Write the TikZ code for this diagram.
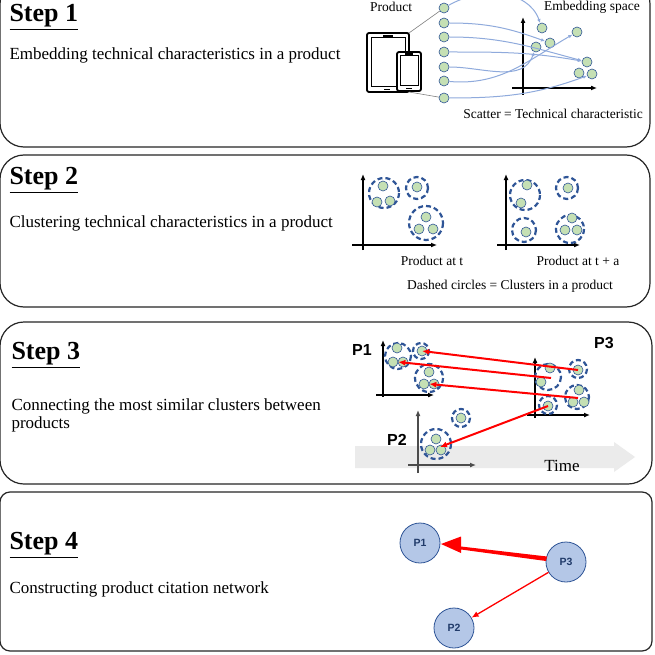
\documentclass[tikz,border=0pt]{standalone}
\usepackage{fontspec}
\setmainfont{Liberation Serif}
\newfontfamily\hsans{Liberation Sans}
\usetikzlibrary{arrows.meta}
\definecolor{dotg}{HTML}{C5E0B4}
\definecolor{dblue}{HTML}{2F5597}
\definecolor{lblue}{HTML}{8FAADC}
\definecolor{nfill}{HTML}{B4C7E7}
\definecolor{redc}{HTML}{FF0000}
\begin{document}
\begin{tikzpicture}[x=1pt,y=-1pt,
  panel/.style={draw=black!85,line width=1.2pt,rounded corners=24pt},
  dot/.style={circle,draw=dblue,fill=dotg,line width=0.6pt,minimum size=10pt,inner sep=0pt},
  clu/.style={draw=dblue,line width=2.2pt,dash pattern=on 5pt off 3pt},
  ax/.style={line width=2pt,-{Latex[length=6pt,width=5pt]}},
  curv/.style={lblue,line width=1pt,-{Latex[length=4pt,width=3.5pt]}},
  head/.style={font=\bfseries\fontsize{26}{30}\selectfont,anchor=west},
  txt/.style={font=\fontsize{17}{20}\selectfont,anchor=west},
  sm/.style={font=\fontsize{13.5}{15}\selectfont},
  lab/.style={font=\hsans\bfseries\fontsize{16}{18}\selectfont},
  rarr/.style={redc,line width=2pt,-{Latex[length=7pt,width=6pt]}},
  pnode/.style={circle,draw=dblue,fill=nfill,line width=0.8pt,minimum size=40pt,inner sep=0pt,font=\hsans\bfseries\fontsize{10.5}{12}\selectfont,text=dblue!70!black}]
\useasboundingbox (0,0) rectangle (655,655);
\fill[white] (0,0) rectangle (655,655);
% panels
\draw[panel] (0,-20) rectangle (650,147);
\draw[panel] (0,155) rectangle (650,307);
\draw[panel] (0,322) rectangle (652,484);
\draw[panel,rounded corners=10pt] (0,492) rectangle (652,651);
% Step 1
\node[head] (h1) at (6,17) {\underline{Step 1}};
\node[txt] (t1) at (6,55) {Embedding technical characteristics in a product};
\node[sm] (prod) at (391,7) {Product};
\node[sm] (emb) at (592,7) {Embedding space};
\node[sm] (scat) at (553,114) {Scatter = Technical characteristic};
% device
\draw[line width=1.8pt,rounded corners=2pt] (367,33) rectangle (409,92);
\draw[line width=1pt] (371,38) rectangle (405,87);
\draw[line width=1.5pt] (383,36) -- (393,36);
\draw[line width=1.8pt,rounded corners=2pt,fill=white] (397,52) rectangle (421,91);
\draw[line width=1pt] (400,56) rectangle (418,86);
\draw[line width=1.3pt] (405,54) -- (413,54);
\draw[line width=1.3pt] (406,88.5) -- (412,88.5);
\draw[line width=1.3pt] (384,89.5) -- (390,89.5);
\coordinate (dtop) at (409,33);
\coordinate (dbot) at (409,92);
% axes 1
\draw[ax] (523,95) -- (523,17);
\draw[ax] (512,88) -- (597,88);
% scatter
\node[dot] (s1) at (542,28) {};
\node[dot] (s2) at (550,43) {};
\node[dot] (s3) at (577,32) {};
\node[dot] (s4) at (536,47) {};
\node[dot] (s5) at (587,62) {};
\node[dot] (s6) at (579,73) {};
\node[dot] (s7) at (592,74) {};
\foreach \i/\y in {1/8,2/23,3/37,4/52,5/67,6/81,7/98}{\node[dot] (d\i) at (444,\y) {};}
\draw[gray,line width=0.6pt] (dtop) -- (d1);
\draw[gray,line width=0.6pt] (dbot) -- (d7);
\draw[curv] (d1) to[out=30,in=110] (s1);
\draw[curv] (d2) to[out=0,in=160] (s2);
\draw[curv] (d3) to[out=0,in=165] (s5);
\draw[curv] (d4) to[out=0,in=170] (s5);
\draw[curv] (d5) to[out=0,in=-110] (s4);
\draw[curv] (d6) to[out=-5,in=-150] (s3);
\draw[curv] (d7) to[out=0,in=-160] (s7);
% Step 2
\node[head] (h2) at (6,180) {\underline{Step 2}};
\node[txt] (t2) at (6,223) {Clustering technical characteristics in a product};
\draw[ax] (363,250) -- (363,174);
\draw[ax] (352,245) -- (437,245);
\draw[clu] (384,193) circle (15);
\node[dot] at (383,186) {};\node[dot] at (377,202) {};\node[dot] at (390,201) {};
\draw[clu] (417,188) circle (11);
\node[dot] at (417,187) {};
\draw[clu] (426,223) circle (17);
\node[dot] at (426,217) {};\node[dot] at (419,229) {};\node[dot] at (433,229) {};
\draw[ax] (506,250) -- (506,174);
\draw[ax] (497,245) -- (580,245);
\draw[clu] (525,195) circle (15);
\node[dot] at (527,185) {};\node[dot] at (521,203) {};
\draw[clu] (567,188) circle (11);
\node[dot] at (568,188) {};
\draw[clu] (524,230) circle (12);
\node[dot] at (526,232) {};
\draw[clu] (570,229) circle (14);
\node[dot] at (572,218) {};\node[dot] at (565,230) {};\node[dot] at (577,230) {};
\node[sm] (pt) at (432,261) {Product at t};
\node[sm] (pta) at (578,261) {Product at t + a};
\node[sm] (dc) at (510,286) {Dashed circles = Clusters in a product};
% Step 3
\node[head] (h3) at (8,355) {\underline{Step 3}};
\node[txt] (t3a) at (8,406) {Connecting the most similar clusters between};
\node[txt] (t3b) at (8,424) {products};
\fill[black!8] (355,446) -- (614,446) -- (614,442) -- (635,457) -- (614,472) -- (614,468) -- (355,468) -- cycle;
\node[font=\fontsize{17}{20}\selectfont] (time) at (562,466) {Time};
% P1
\node[lab] (p1) at (362,350) {P1};
\draw[ax] (383,397) -- (383,340);
\draw[ax] (376,395) -- (434,395);
\draw[clu] (398,356) circle (13);
\node[dot] at (397,348) {};\node[dot] (p1c1) at (393,362) {};\node[dot] at (403,362) {};
\draw[clu] (421,351) circle (8);
\node[dot] (p1c2) at (422,351) {};
\draw[clu] (429,378) circle (14);
\node[dot] at (429,372) {};\node[dot] (p1c3) at (424,384) {};\node[dot] at (434,384) {};
% P3
\node[lab] (p3) at (604,343) {P3};
\draw[ax] (535,418) -- (535,357);
\draw[ax] (527,415) -- (590,415);
\draw[clu] (548,377) circle (13);
\node[dot] at (550,368) {};\node[dot] at (541,382) {};
\coordinate (p3a) at (551,378);
\draw[clu] (578,369) circle (9);
\node[dot] (p3b) at (578,370) {};
\draw[clu] (577,397) circle (12);
\node[dot] at (579,390) {};\node[dot] at (573,402) {};\node[dot] at (584,402) {};
\coordinate (p3c) at (578,398);
\draw[clu] (548,405) circle (9);
\node[dot] (p3d) at (548,406) {};
% P2
\node[lab] (p2) at (397,440) {P2};
\draw[ax,black!70] (418,473) -- (418,410);
\draw[ax,black!70] (408,465) -- (476,465);
\draw[clu] (461,418) circle (9);
\node[dot] at (461,418) {};
\draw[clu] (436,444) circle (15);
\node[dot] at (436,439) {};\node[dot] at (430,450) {};\node[dot] at (441,450) {};
\coordinate (p2f) at (440,447);
\draw[rarr] (p3b.center) -- (p1c2.center);
\draw[rarr] (p3a) -- (p1c1.east);
\draw[rarr] (p3c) -- (p1c3.east);
\draw[rarr] (p3d.center) -- (p2f);
% Step 4
\node[head] (h4) at (6,545) {\underline{Step 4}};
\node[txt] (t4) at (6,589) {Constructing product citation network};
\node[pnode] (n1) at (420,543) {P1};
\node[pnode] (n3) at (566,562) {P3};
\node[pnode] (n2) at (454,628) {P2};
\fill[redc] (547,556.5) -- (461,546.5) -- (461,536.5) -- (441,544) -- (461,553) -- (461,549.5) -- (546,561) -- cycle;
\draw[redc,line width=1.3pt,-{Latex[length=7pt,width=6pt]}] (n3) -- (n2);
\end{tikzpicture}
\end{document}
